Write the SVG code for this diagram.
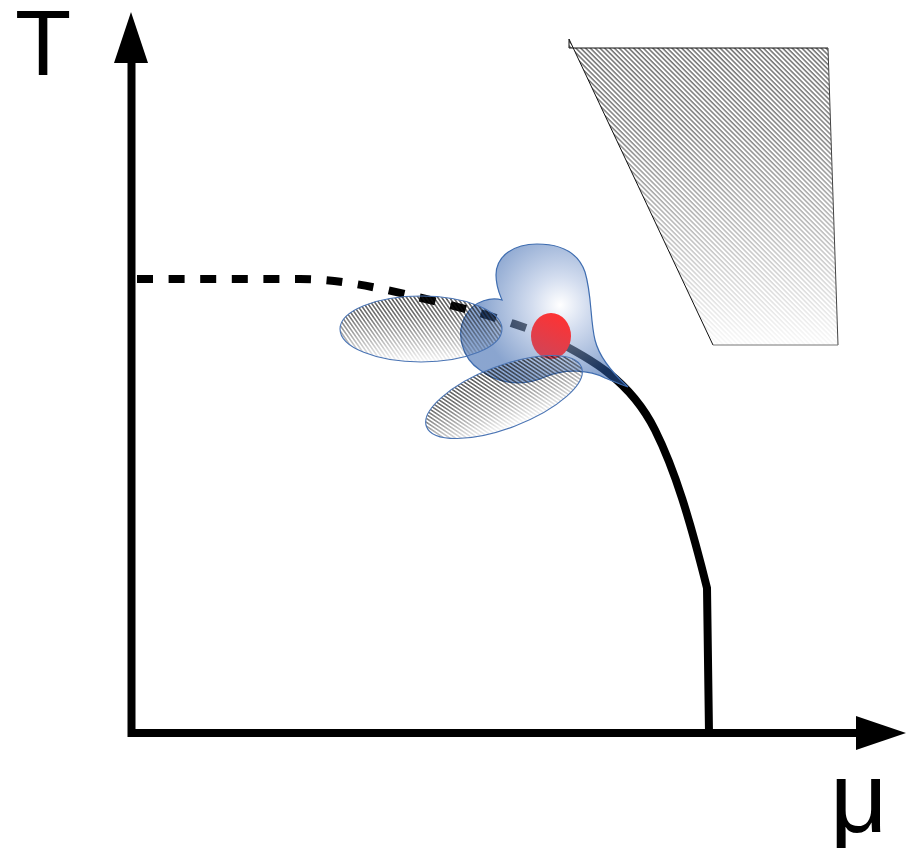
<svg xmlns="http://www.w3.org/2000/svg" width="912" height="848" viewBox="0 0 912 848">
  <style>
    .axis { fill: none; stroke: #000; stroke-width: 8; stroke-linejoin: miter; }
    .head { fill: #000; }
    .lbl { font-family: "Liberation Sans", Arial, sans-serif; fill: #000; }
    .ell-edge { fill: none; stroke: #4a74b4; stroke-width: 1.1; }
  </style>
  <defs>
    <pattern id="hatchE" patternUnits="userSpaceOnUse" width="6" height="3.2" patternTransform="rotate(55)">
      <line x1="0" y1="0.8" x2="6" y2="0.8" stroke="#111" stroke-width="1.1"/>
    </pattern>
    <pattern id="hatchT" patternUnits="userSpaceOnUse" width="6" height="3.4" patternTransform="rotate(45)">
      <line x1="0" y1="0.8" x2="6" y2="0.8" stroke="#222" stroke-width="1"/>
    </pattern>
    <linearGradient id="fadeG" x1="0" y1="0" x2="0" y2="1">
      <stop offset="0" stop-color="#fff"/>
      <stop offset="0.3" stop-color="#fff" stop-opacity="0.85"/>
      <stop offset="1" stop-color="#fff" stop-opacity="0.04"/>
    </linearGradient>
    <mask id="fade" maskContentUnits="objectBoundingBox">
      <rect x="0" y="0" width="1" height="1" fill="url(#fadeG)"/>
    </mask>
    <radialGradient id="blueG" gradientUnits="userSpaceOnUse" cx="560" cy="305" r="80">
      <stop offset="0" stop-color="#ffffff"/>
      <stop offset="0.35" stop-color="#afc1e2"/>
      <stop offset="1" stop-color="#2a5ba8"/>
    </radialGradient>
    <linearGradient id="redG" x1="0.7" y1="0" x2="0.3" y2="1">
      <stop offset="0" stop-color="#ff3232"/>
      <stop offset="1" stop-color="#cf4558"/>
    </linearGradient>
  </defs>

  <g id="axes">
    <path class="axis" d="M131.5 60 L131.5 733 L860 733"/>
    <polygon class="head" points="131,12 114,63 148,63"/>
    <polygon class="head" points="906,733 856,716 856,750"/>
  </g>

  <g id="label-T"><text class="lbl" x="15" y="75" font-size="92">T</text></g>
  <g id="label-mu"><text class="lbl" x="830" y="832" font-size="100">μ</text></g>

  <g id="region-trapezoid">
    <polygon points="569,39 713,345 838,345 828,48 569,48" fill="url(#hatchT)" mask="url(#fade)"/>
    <polyline points="828,48 569,48 569,39 713,345" fill="none" stroke="#111" stroke-width="1"/>
    <line x1="828" y1="48" x2="838" y2="345" stroke="#444" stroke-width="1"/>
    <line x1="713" y1="345" x2="838" y2="345" stroke="#777" stroke-width="1"/>
  </g>

  <g id="connectors">
    <path d="M137 279 L300 279 C340 279 380 288 430 300 S510 322 548 336" fill="none" stroke="#000" stroke-width="8" stroke-dasharray="16 15.6"/>
    <path d="M550 338 C590 358 630 380 655 430 C675 470 690 520 707 588 L709 733" fill="none" stroke="#000" stroke-width="8"/>
  </g>

  <g id="critical-region">
    <path d="M628 387 C618 378 600 360 595 340 C590 320 592 295 585 272 C578 252 560 244 537 244 C515 244 496 255 496 275 C496 287 500 295 502 300 C492 297 475 300 466 315 C455 333 462 358 480 370 C495 382 520 388 545 377 C565 368 590 370 605 378 C615 382 622 385 628 387 Z" fill="url(#blueG)" fill-opacity="0.55" stroke="#3f6db0" stroke-width="1.2"/>
  </g>

  <g id="critical-point">
    <ellipse cx="551" cy="336" rx="20" ry="23" fill="url(#redG)"/>
  </g>

  <g id="ellipse-left">
    <ellipse cx="421" cy="329" rx="81" ry="33" fill="url(#hatchE)" mask="url(#fade)"/>
    <ellipse class="ell-edge" cx="421" cy="329" rx="81" ry="33"/>
  </g>

  <g id="ellipse-lower">
    <g transform="rotate(-21 504 397)">
      <ellipse cx="504" cy="397" rx="83" ry="31" fill="url(#hatchE)" mask="url(#fade)"/>
      <ellipse class="ell-edge" cx="504" cy="397" rx="83" ry="31"/>
    </g>
  </g>
</svg>
